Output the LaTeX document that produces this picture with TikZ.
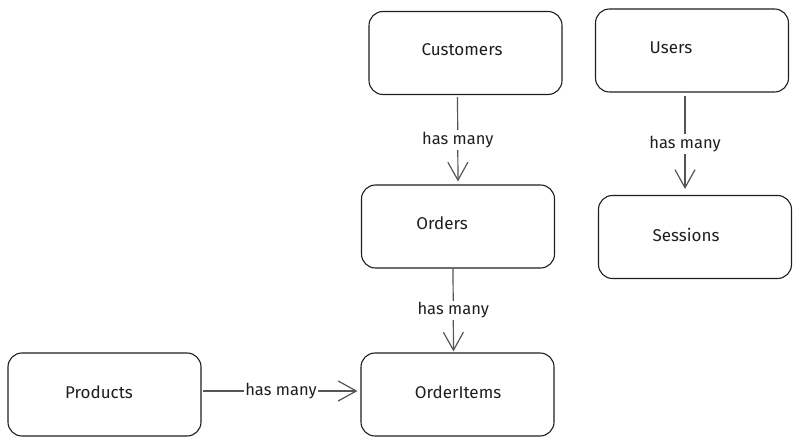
\documentclass[tikz,border=0pt]{standalone}
\usepackage{fontspec}
\setmainfont{Fira Sans}
\usetikzlibrary{positioning,arrows.meta}
\definecolor{inkline}{HTML}{1E1E1E}
\definecolor{linkgray}{HTML}{555555}
\tikzset{
  entity/.style={draw=inkline, line width=1.1pt, rounded corners=14pt,
    minimum width=193pt, minimum height=83pt, inner sep=0pt},
  entitytext/.style={font=\fontsize{17}{19}\selectfont, text=inkline, inner sep=0pt},
  link/.style={draw=linkgray, line width=1.2pt,
    -{Straight Barb[length=18pt,width=20pt,line width=1.2pt]}},
  linklabel/.style={fill=white, text=inkline, font=\fontsize{16.5}{19}\selectfont, inner sep=2pt}
}

\begin{document}
\begin{tikzpicture}[x=1pt,y=-1pt]
    \useasboundingbox (0,0) rectangle (801,446);

    % entity boxes
    \node[entity] (customers) at (465.5,53) {};
    \node[entity] (users) at (692,50.5) {};
    \node[entity] (orders) at (458,226.5) {};
    \node[entity] (sessions) at (695,237) {};
    \node[entity] (products) at (104.5,394.5) {};
    \node[entity] (orderitems) at (457.5,394.5) {};

    % box titles
    \node[entitytext] (customersT) at (462,50) {Customers};
    \node[entitytext] (usersT) at (671,48) {Users};
    \node[entitytext] (ordersT) at (442,223) {Orders};
    \node[entitytext] (sessionsT) at (686,235) {Sessions};
    \node[entitytext] (productsT) at (99,392) {Products};
    \node[entitytext] (orderitemsT) at (458,392) {OrderItems};

    % relations
    \draw[link, shorten <=2pt, shorten >=3pt] ([xshift=-8pt]customers.south) -- node[linklabel] {has many} (orders.north);
    \draw[link, shorten <=3pt, shorten >=6pt] ([xshift=-7pt]users.south) -- node[linklabel] {has many} ([xshift=-10pt]sessions.north);
    \draw[link, shorten >=1pt] ([xshift=-5pt]orders.south) -- node[linklabel] {has many} ([xshift=-4pt]orderitems.north);
    \draw[link, shorten <=1pt, shorten >=3pt] ([yshift=3.5pt]products.east) -- node[linklabel, inner xsep=1pt] {has many} ([yshift=3.5pt]orderitems.west);
\end{tikzpicture}
\end{document}
